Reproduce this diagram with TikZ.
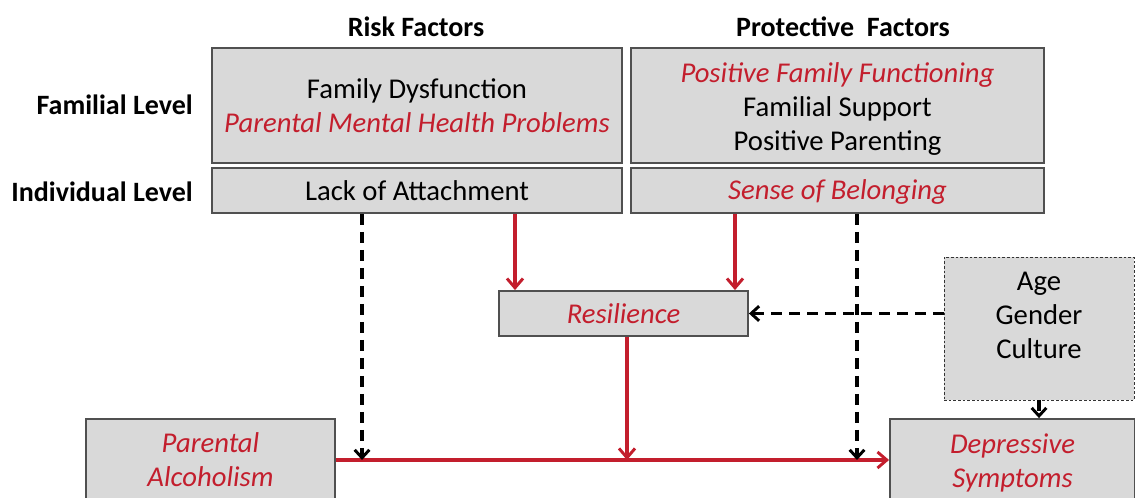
\documentclass[tikz,border=0pt]{standalone}
\usepackage{fontspec}
\setmainfont{Carlito}
\usetikzlibrary{arrows.meta,calc}
\definecolor{rd}{RGB}{195,30,45}
\definecolor{bx}{RGB}{217,217,217}
\definecolor{bd}{RGB}{80,80,80}
\newdimen\pxu \pxu=0.75pt
\newcommand{\stk}[1]{\begin{tabular}{@{}c@{}}#1\end{tabular}}
\begin{document}
\begin{tikzpicture}[x=0.75pt,y=-0.75pt,
  box/.style={draw=bd,fill=bx,line width=1.4pt,align=center,inner sep=0pt,
    font=\fontsize{21.5}{25.5}\selectfont},
  ttl/.style={font=\fontsize{21}{24}\selectfont\bfseries},
  lvl/.style={font=\fontsize{21}{24}\selectfont\bfseries,anchor=east,inner sep=0pt},
  redarrow/.style={draw=rd,line width=2.4pt,-{Straight Barb[length=7pt,width=12pt,line width=2.2pt]}},
  dasharrow/.style={draw=black,line width=2.6pt,dash pattern=on 8pt off 5.5pt,-{Straight Barb[length=6pt,width=11pt,line width=2.2pt]}}]
\useasboundingbox (0,0) rectangle (1135,498);
\begin{scope}
\clip (0,0) rectangle (1135,498);
\node[ttl] (trisk) at (416,27) {Risk Factors};
\node[ttl] (tprot) at (843,27) {Protective\ \ Factors};
\node[lvl] (lfam) at (193,105) {Familial Level};
\node[lvl] (lind) at (193,192) {Individual Level};

\node[box,minimum width=410\pxu,minimum height=115\pxu] (rf) at (417,105.5)
  {Family Dysfunction\\ \textcolor{rd}{\itshape Parental Mental Health Problems}};
\node[box,minimum width=410\pxu,minimum height=45\pxu] (ri) at (417,190.5)
  {Lack of Attachment};
\node[box,minimum width=413\pxu,minimum height=115\pxu] (pf) at (837.5,105.5)
  {\raisebox{-8.4pt}[0pt][0pt]{\stk{\textcolor{rd}{\itshape Positive Family Functioning}\\ Familial Support\\ Positive Parenting}}};
\node[box,minimum width=413\pxu,minimum height=45\pxu] (pi) at (837.5,190.5)
  {\raisebox{-6.75pt}[0pt][0pt]{\textcolor{rd}{\itshape Sense of Belonging}}};
\node[box,minimum width=249\pxu,minimum height=45\pxu] (res) at (623.5,313.5)
  {\textcolor{rd}{\itshape Resilience}};
\node[box,draw=black!80,line width=0.7pt,dash pattern=on 2pt off 1.5pt,minimum width=190\pxu,minimum height=143\pxu] (age) at (1039,328.5)
  {\raisebox{2.85pt}[0pt][0pt]{\stk{Age\\ Gender\\ Culture}}};
\node[box,minimum width=249\pxu,minimum height=82\pxu] (pa) at (210.5,460)
  {\textcolor{rd}{\itshape Parental}\\ \textcolor{rd}{\itshape Alcoholism}};
\node[box,minimum width=245\pxu,minimum height=82\pxu] (ds) at (1012.5,460)
  {\raisebox{-7.65pt}[0pt][0pt]{\stk{\textcolor{rd}{\itshape Depressive}\\ \textcolor{rd}{\itshape Symptoms}}}};

\coordinate (c1) at (515,0);
\coordinate (c2) at (735,0);
\coordinate (c3) at (627,0);
\coordinate (d1) at (362,0);
\coordinate (d2) at (857,0);

\draw[redarrow] (ri.south -| c1) -- (res.north -| c1);
\draw[redarrow] (pi.south -| c2) -- (res.north -| c2);
\draw[redarrow] (pa.east) -- (ds.west);
\draw[redarrow] (res.south -| c3) -- (c3 |- pa.east);
\draw[dasharrow] (ri.south -| d1) -- (d1 |- pa.east);
\draw[dasharrow] (pi.south -| d2) -- (d2 |- pa.east);
\draw[dasharrow] (age.west |- res.east) -- (res.east);
\draw[dasharrow] (age.south) -- (ds.north -| age.south);
\end{scope}
\end{tikzpicture}
\end{document}
